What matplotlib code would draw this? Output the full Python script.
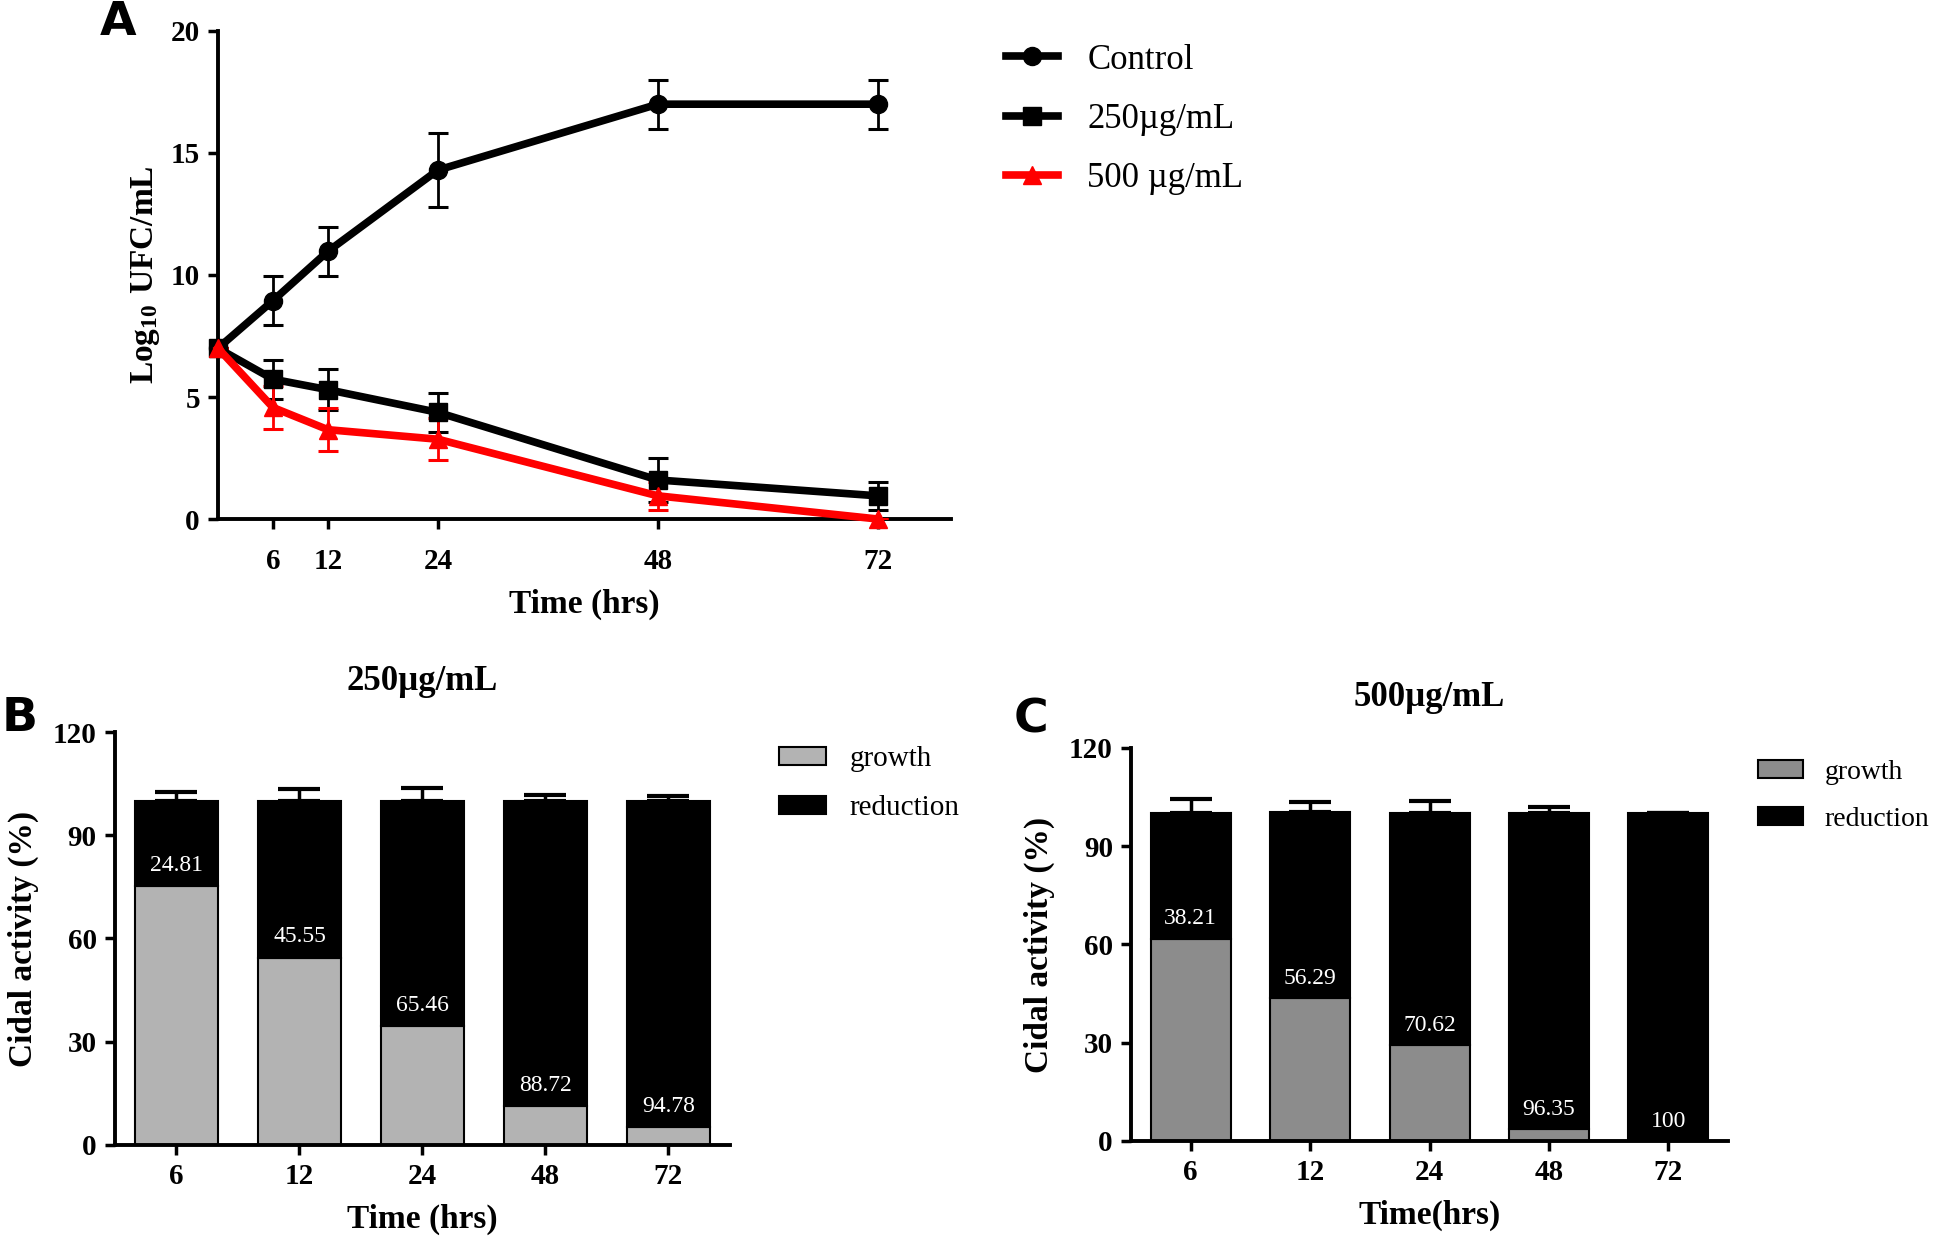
import matplotlib
matplotlib.use('Agg')
import matplotlib.pyplot as plt
import numpy as np

# panel A: log10 counts over time
hours = [0, 6, 12, 24, 48, 72]
control = [7, 8.95, 10.97, 14.3, 17.0, 17.0]
control_err = [0, 1.0, 1.0, 1.5, 1.0, 1.0]
dose250 = [7, 5.73, 5.3, 4.37, 1.6, 0.95]
dose250_err = [0, 0.8, 0.85, 0.8, 0.9, 0.58]
dose500 = [7, 4.57, 3.66, 3.27, 0.95, 0.0]
dose500_err = [0, 0.87, 0.88, 0.87, 0.58, 0]

# panels B and C: cidal activity (%)
bar_times = ['6', '12', '24', '48', '72']
b_reduction = [24.81, 45.55, 65.46, 88.72, 94.78]
b_total = [100, 100, 100, 100, 100]
b_err = [2.5, 3.5, 3.8, 1.8, 1.3]
c_reduction = [38.21, 56.29, 70.62, 96.35, 100]
c_total = [100, 100.6, 100, 100.3, 100]
c_err = [4.5, 3.0, 3.8, 1.8, 0]

SERIF = 'Liberation Serif'
plt.rcParams['font.family'] = SERIF
plt.rcParams['mathtext.fontset'] = 'custom'
plt.rcParams['mathtext.rm'] = SERIF
plt.rcParams['mathtext.bf'] = SERIF + ':bold'

TICK = 21
LABEL = 24


def style_axes(ax):
    for s in ['top', 'right']:
        ax.spines[s].set_visible(False)
    for s in ['left', 'bottom']:
        ax.spines[s].set_linewidth(2.8)
    ax.tick_params(direction='out', length=7, width=2.5, labelsize=TICK, pad=6)
    for lab in ax.get_xticklabels() + ax.get_yticklabels():
        lab.set_fontweight('bold')


fig = plt.figure(figsize=(19.41, 12.39), dpi=100)

# ---- A ----
axA = fig.add_axes([0.1123, 0.5811, 0.3777, 0.3939])
series = [
    (control, control_err, 'black', 'o', 'Control'),
    (dose250, dose250_err, 'black', 's', '250\u00b5g/mL'),
    (dose500, dose500_err, 'red', '^', '500 \u00b5g/mL'),
]
handles = []
for vals, err, col, mk, lab in series:
    axA.errorbar(hours, vals, yerr=err, fmt='none', ecolor=col,
                 elinewidth=2.0, capsize=7, capthick=2.2, zorder=3)
    h, = axA.plot(hours, vals, color=col, lw=5.5, marker=mk, ms=13,
                  label=lab, zorder=4, clip_on=False)
    handles.append(h)
axA.set_xlim(0, 80)
axA.set_ylim(0, 20)
axA.set_xticks([6, 12, 24, 48, 72])
axA.set_yticks([0, 5, 10, 15, 20])
style_axes(axA)
axA.tick_params(axis='x', pad=14)
axA.set_xlabel('Time (hrs)', fontsize=LABEL, fontweight='bold', labelpad=10)
axA.set_ylabel(r'$\mathbf{Log_{10}\ UFC/mL}$', fontsize=LABEL, labelpad=6)
fig.legend(handles=handles, loc='upper left', bbox_to_anchor=(0.502, 0.99),
           frameon=False, fontsize=25, handlelength=1.5, handletextpad=0.85,
           labelspacing=0.75, numpoints=1)
fig.text(0.061, 0.982, 'A', fontsize=34, fontweight='bold', family='DejaVu Sans',
         ha='center', va='center')


def bar_panel(rect, reduction, total, err, grow_col, title, xlab, letter,
              letter_pos, leg_anchor, leg_size):
    ax = fig.add_axes(rect)
    x = np.arange(len(bar_times))
    growth = [100 - r for r in reduction]
    red_part = [t - g for t, g in zip(total, growth)]
    g_bars = ax.bar(x, growth, width=0.67, color=grow_col, edgecolor='black',
                    linewidth=1.5, label='growth', zorder=2)
    r_bars = ax.bar(x, red_part, bottom=growth, width=0.67, color='black',
                    edgecolor='black', linewidth=1.5, label='reduction', zorder=2)
    ax.errorbar(x, total, yerr=[np.zeros(len(err)), err], fmt='none',
                ecolor='black', elinewidth=2.5, capsize=15, capthick=3, zorder=3)
    for xi, g, r in zip(x, growth, reduction):
        ax.text(xi, g + 6, f'{r:g}', color='white', fontsize=17,
                ha='center', va='center', zorder=4)
    ax.set_xlim(-0.5, len(bar_times) - 0.5)
    ax.set_ylim(0, 120)
    ax.set_yticks([0, 30, 60, 90, 120])
    ax.set_xticks(x)
    ax.set_xticklabels(bar_times)
    style_axes(ax)
    ax.set_xlabel(xlab, fontsize=LABEL, fontweight='bold', labelpad=10)
    ax.set_ylabel('Cidal activity (%)', fontsize=LABEL, fontweight='bold', labelpad=10)
    ax.set_title(title, fontsize=25, fontweight='bold', pad=30)
    fig.legend(handles=[g_bars, r_bars], loc='upper left', bbox_to_anchor=leg_anchor,
               frameon=False, fontsize=leg_size, handlelength=1.6, handleheight=0.6,
               handletextpad=0.8, labelspacing=0.8)
    fig.text(letter_pos[0], letter_pos[1], letter, fontsize=34, fontweight='bold',
             family='DejaVu Sans', ha='center', va='center')
    return ax


bar_panel([0.0592, 0.0759, 0.3169, 0.3333], b_reduction, b_total, b_err, '#b3b3b3',
          '250\u00b5g/mL', 'Time (hrs)', 'B', (0.010, 0.420), (0.388, 0.419), 21)
bar_panel([0.5827, 0.0791, 0.3076, 0.3172], c_reduction, c_total, c_err, '#8c8c8c',
          '500\u00b5g/mL', 'Time(hrs)', 'C', (0.531, 0.419), (0.893, 0.407), 20)

fig.savefig('out.png', dpi=100)
